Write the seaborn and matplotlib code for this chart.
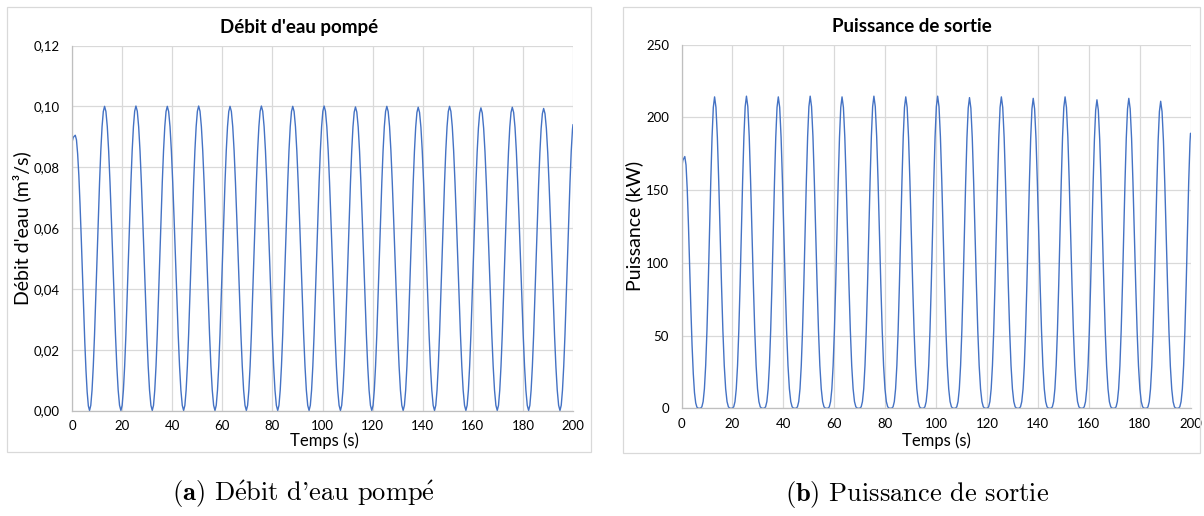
import matplotlib
matplotlib.use("Agg")
import matplotlib.pyplot as plt
import seaborn as sns
import pandas as pd
from matplotlib.patches import Rectangle
from matplotlib.ticker import FuncFormatter, FixedLocator

# ---------------- data ----------------
time_s = [
    0.00, 0.10, 0.50, 1.30, 1.78, 2.25, 2.73, 3.20, 3.68, 4.15, 4.63, 5.10, 5.58, 6.05, 6.53,
    7.00, 7.50, 8.00, 8.50, 9.00, 9.50, 10.00, 10.50, 11.00, 11.50, 12.00, 12.50, 13.00, 13.54, 14.09, 14.63, 15.17, 15.72, 16.26, 16.80, 17.35, 17.89, 18.43, 18.98,
    19.52, 20.02, 20.52, 21.02, 21.52, 22.02, 22.52, 23.02, 23.52, 24.02, 24.52, 25.02, 25.52, 26.06, 26.61, 27.15, 27.69, 28.24, 28.78, 29.32, 29.87, 30.41, 30.95, 31.50,
    32.04, 32.54, 33.04, 33.54, 34.04, 34.54, 35.04, 35.54, 36.04, 36.54, 37.04, 37.54, 38.04, 38.58, 39.13, 39.67, 40.21, 40.76, 41.30, 41.84, 42.39, 42.93, 43.47, 44.02,
    44.56, 45.06, 45.56, 46.06, 46.56, 47.06, 47.56, 48.06, 48.56, 49.06, 49.56, 50.06, 50.56, 51.10, 51.65, 52.19, 52.73, 53.28, 53.82, 54.36, 54.91, 55.45, 55.99, 56.54,
    57.08, 57.58, 58.08, 58.58, 59.08, 59.58, 60.08, 60.58, 61.08, 61.58, 62.08, 62.58, 63.08, 63.62, 64.17, 64.71, 65.25, 65.80, 66.34, 66.88, 67.43, 67.97, 68.51, 69.06,
    69.60, 70.10, 70.60, 71.10, 71.60, 72.10, 72.60, 73.10, 73.60, 74.10, 74.60, 75.10, 75.60, 76.14, 76.69, 77.23, 77.77, 78.32, 78.86, 79.40, 79.95, 80.49, 81.03, 81.58,
    82.12, 82.62, 83.12, 83.62, 84.12, 84.62, 85.12, 85.62, 86.12, 86.62, 87.12, 87.62, 88.12, 88.66, 89.21, 89.75, 90.29, 90.84, 91.38, 91.92, 92.47, 93.01, 93.55, 94.10,
    94.64, 95.14, 95.64, 96.14, 96.64, 97.14, 97.64, 98.14, 98.64, 99.14, 99.64, 100.14, 100.64, 101.18, 101.73, 102.27, 102.81, 103.36, 103.90, 104.44, 104.99, 105.53, 106.07, 106.62,
    107.16, 107.66, 108.16, 108.66, 109.16, 109.66, 110.16, 110.66, 111.16, 111.66, 112.16, 112.66, 113.16, 113.70, 114.25, 114.79, 115.33, 115.88, 116.42, 116.96, 117.51, 118.05, 118.59, 119.14,
    119.68, 120.18, 120.68, 121.18, 121.68, 122.18, 122.68, 123.18, 123.68, 124.18, 124.68, 125.18, 125.68, 126.22, 126.77, 127.31, 127.85, 128.40, 128.94, 129.48, 130.03, 130.57, 131.11, 131.66,
    132.20, 132.70, 133.20, 133.70, 134.20, 134.70, 135.20, 135.70, 136.20, 136.70, 137.20, 137.70, 138.20, 138.74, 139.29, 139.83, 140.37, 140.92, 141.46, 142.00, 142.55, 143.09, 143.63, 144.18,
    144.72, 145.22, 145.72, 146.22, 146.72, 147.22, 147.72, 148.22, 148.72, 149.22, 149.72, 150.22, 150.72, 151.26, 151.81, 152.35, 152.89, 153.44, 153.98, 154.52, 155.07, 155.61, 156.15, 156.70,
    157.24, 157.74, 158.24, 158.74, 159.24, 159.74, 160.24, 160.74, 161.24, 161.74, 162.24, 162.74, 163.24, 163.78, 164.33, 164.87, 165.41, 165.96, 166.50, 167.04, 167.59, 168.13, 168.67, 169.22,
    169.76, 170.26, 170.76, 171.26, 171.76, 172.26, 172.76, 173.26, 173.76, 174.26, 174.76, 175.26, 175.76, 176.30, 176.85, 177.39, 177.93, 178.48, 179.02, 179.56, 180.11, 180.65, 181.19, 181.74,
    182.28, 182.78, 183.28, 183.78, 184.28, 184.78, 185.28, 185.78, 186.28, 186.78, 187.28, 187.78, 188.28, 188.82, 189.37, 189.91, 190.45, 191.00, 191.54, 192.08, 192.63, 193.17, 193.71, 194.26,
    194.80, 195.30, 195.80, 196.30, 196.80, 197.30, 197.80, 198.30, 198.80, 199.30, 199.80, 200.00,
]

flow_m3s = [
    0.0000, 0.0885, 0.0898, 0.0905, 0.0890, 0.0844, 0.0773, 0.0679, 0.0570, 0.0453, 0.0335, 0.0226, 0.0132, 0.0061, 0.0015,
    0.0000, 0.0017, 0.0067, 0.0146, 0.0250, 0.0371, 0.0500, 0.0629, 0.0750, 0.0854, 0.0933, 0.0983, 0.1000, 0.0983, 0.0933, 0.0854, 0.0750, 0.0629, 0.0500, 0.0371, 0.0250, 0.0146, 0.0067, 0.0017,
    0.0000, 0.0017, 0.0067, 0.0146, 0.0250, 0.0371, 0.0500, 0.0629, 0.0750, 0.0854, 0.0933, 0.0984, 0.1001, 0.0984, 0.0933, 0.0854, 0.0750, 0.0629, 0.0500, 0.0371, 0.0250, 0.0146, 0.0067, 0.0017,
    0.0000, 0.0017, 0.0067, 0.0146, 0.0250, 0.0371, 0.0500, 0.0629, 0.0750, 0.0854, 0.0933, 0.0983, 0.1000, 0.0983, 0.0933, 0.0854, 0.0750, 0.0629, 0.0500, 0.0371, 0.0250, 0.0146, 0.0067, 0.0017,
    0.0000, 0.0017, 0.0067, 0.0146, 0.0250, 0.0371, 0.0500, 0.0629, 0.0750, 0.0854, 0.0933, 0.0984, 0.1001, 0.0984, 0.0933, 0.0854, 0.0750, 0.0629, 0.0500, 0.0371, 0.0250, 0.0146, 0.0067, 0.0017,
    0.0000, 0.0017, 0.0067, 0.0146, 0.0250, 0.0371, 0.0500, 0.0629, 0.0750, 0.0854, 0.0933, 0.0983, 0.1000, 0.0983, 0.0933, 0.0854, 0.0750, 0.0629, 0.0500, 0.0371, 0.0250, 0.0146, 0.0067, 0.0017,
    0.0000, 0.0017, 0.0067, 0.0146, 0.0250, 0.0371, 0.0500, 0.0629, 0.0750, 0.0854, 0.0933, 0.0984, 0.1001, 0.0984, 0.0933, 0.0854, 0.0750, 0.0629, 0.0500, 0.0371, 0.0250, 0.0146, 0.0067, 0.0017,
    0.0000, 0.0017, 0.0067, 0.0146, 0.0250, 0.0371, 0.0500, 0.0629, 0.0750, 0.0854, 0.0933, 0.0983, 0.1000, 0.0983, 0.0933, 0.0854, 0.0750, 0.0629, 0.0500, 0.0371, 0.0250, 0.0146, 0.0067, 0.0017,
    0.0000, 0.0017, 0.0067, 0.0146, 0.0250, 0.0371, 0.0500, 0.0629, 0.0750, 0.0854, 0.0933, 0.0984, 0.1001, 0.0984, 0.0933, 0.0854, 0.0750, 0.0629, 0.0500, 0.0371, 0.0250, 0.0146, 0.0067, 0.0017,
    0.0000, 0.0017, 0.0067, 0.0146, 0.0250, 0.0371, 0.0500, 0.0629, 0.0749, 0.0853, 0.0932, 0.0981, 0.0998, 0.0981, 0.0932, 0.0853, 0.0749, 0.0629, 0.0500, 0.0371, 0.0250, 0.0146, 0.0067, 0.0017,
    0.0000, 0.0017, 0.0067, 0.0146, 0.0250, 0.0371, 0.0500, 0.0629, 0.0750, 0.0854, 0.0933, 0.0983, 0.1000, 0.0983, 0.0933, 0.0854, 0.0750, 0.0629, 0.0500, 0.0371, 0.0250, 0.0146, 0.0067, 0.0017,
    0.0000, 0.0017, 0.0067, 0.0146, 0.0250, 0.0371, 0.0500, 0.0628, 0.0748, 0.0852, 0.0931, 0.0980, 0.0997, 0.0980, 0.0931, 0.0852, 0.0748, 0.0628, 0.0500, 0.0371, 0.0250, 0.0146, 0.0067, 0.0017,
    0.0000, 0.0017, 0.0067, 0.0146, 0.0250, 0.0371, 0.0500, 0.0629, 0.0750, 0.0854, 0.0933, 0.0983, 0.1000, 0.0983, 0.0933, 0.0854, 0.0750, 0.0629, 0.0500, 0.0371, 0.0250, 0.0146, 0.0067, 0.0017,
    0.0000, 0.0017, 0.0067, 0.0146, 0.0249, 0.0369, 0.0498, 0.0626, 0.0746, 0.0850, 0.0928, 0.0978, 0.0995, 0.0978, 0.0928, 0.0850, 0.0746, 0.0626, 0.0498, 0.0369, 0.0249, 0.0146, 0.0067, 0.0017,
    0.0000, 0.0017, 0.0067, 0.0146, 0.0250, 0.0371, 0.0500, 0.0628, 0.0748, 0.0852, 0.0931, 0.0980, 0.0997, 0.0980, 0.0931, 0.0852, 0.0748, 0.0628, 0.0500, 0.0371, 0.0250, 0.0146, 0.0067, 0.0017,
    0.0000, 0.0017, 0.0067, 0.0145, 0.0248, 0.0368, 0.0497, 0.0625, 0.0745, 0.0848, 0.0927, 0.0976, 0.0993, 0.0976, 0.0927, 0.0848, 0.0745, 0.0625, 0.0497, 0.0368, 0.0248, 0.0145, 0.0067, 0.0017,
    0.0000, 0.0017, 0.0067, 0.0146, 0.0250, 0.0371, 0.0500, 0.0629, 0.0750, 0.0854, 0.0925, 0.0940,
]

power_kw = [
    0.0, 165.5, 170.3, 173.0, 167.2, 150.6, 126.0, 97.3, 68.5, 43.3, 23.8, 10.8, 3.7, 0.8, 0.1,
    0.0, 0.1, 1.0, 4.6, 13.4, 29.4, 53.5, 84.8, 120.4, 155.9, 186.3, 206.8, 214.0, 206.8, 186.3, 155.9, 120.4, 84.8, 53.5, 29.4, 13.4, 4.6, 1.0, 0.1,
    0.0, 0.1, 1.0, 4.6, 13.4, 29.4, 53.6, 85.0, 120.7, 156.3, 186.7, 207.3, 214.5, 207.3, 186.7, 156.3, 120.7, 85.0, 53.6, 29.4, 13.4, 4.6, 1.0, 0.1,
    0.0, 0.1, 1.0, 4.6, 13.4, 29.4, 53.5, 84.8, 120.4, 155.9, 186.3, 206.8, 214.0, 206.8, 186.3, 155.9, 120.4, 84.8, 53.5, 29.4, 13.4, 4.6, 1.0, 0.1,
    0.0, 0.1, 1.0, 4.6, 13.4, 29.4, 53.6, 85.0, 120.7, 156.3, 186.7, 207.3, 214.5, 207.3, 186.7, 156.3, 120.7, 85.0, 53.6, 29.4, 13.4, 4.6, 1.0, 0.1,
    0.0, 0.1, 1.0, 4.6, 13.4, 29.4, 53.5, 84.8, 120.4, 155.9, 186.3, 206.8, 214.0, 206.8, 186.3, 155.9, 120.4, 84.8, 53.5, 29.4, 13.4, 4.6, 1.0, 0.1,
    0.0, 0.1, 1.0, 4.6, 13.4, 29.4, 53.6, 85.0, 120.7, 156.3, 186.7, 207.3, 214.5, 207.3, 186.7, 156.3, 120.7, 85.0, 53.6, 29.4, 13.4, 4.6, 1.0, 0.1,
    0.0, 0.1, 1.0, 4.6, 13.4, 29.4, 53.5, 84.8, 120.4, 155.9, 186.3, 206.8, 214.0, 206.8, 186.3, 155.9, 120.4, 84.8, 53.5, 29.4, 13.4, 4.6, 1.0, 0.1,
    0.0, 0.1, 1.0, 4.6, 13.4, 29.4, 53.6, 85.0, 120.7, 156.3, 186.7, 207.3, 214.5, 207.3, 186.7, 156.3, 120.7, 85.0, 53.6, 29.4, 13.4, 4.6, 1.0, 0.1,
    0.0, 0.1, 1.0, 4.6, 13.3, 29.3, 53.4, 84.6, 120.1, 155.6, 185.8, 206.3, 213.5, 206.3, 185.8, 155.6, 120.1, 84.6, 53.4, 29.3, 13.3, 4.6, 1.0, 0.1,
    0.0, 0.1, 1.0, 4.6, 13.4, 29.4, 53.5, 84.8, 120.4, 155.9, 186.3, 206.8, 214.0, 206.8, 186.3, 155.9, 120.4, 84.8, 53.5, 29.4, 13.4, 4.6, 1.0, 0.1,
    0.0, 0.1, 1.0, 4.6, 13.3, 29.2, 53.3, 84.4, 119.8, 155.2, 185.4, 205.8, 213.0, 205.8, 185.4, 155.2, 119.8, 84.4, 53.3, 29.2, 13.3, 4.6, 1.0, 0.1,
    0.0, 0.1, 1.0, 4.6, 13.4, 29.4, 53.5, 84.8, 120.4, 155.9, 186.3, 206.8, 214.0, 206.8, 186.3, 155.9, 120.4, 84.8, 53.5, 29.4, 13.4, 4.6, 1.0, 0.1,
    0.0, 0.1, 1.0, 4.5, 13.3, 29.1, 53.0, 84.0, 119.3, 154.5, 184.5, 204.9, 212.0, 204.9, 184.5, 154.5, 119.3, 84.0, 53.0, 29.1, 13.3, 4.5, 1.0, 0.1,
    0.0, 0.1, 1.0, 4.6, 13.3, 29.2, 53.3, 84.4, 119.8, 155.2, 185.4, 205.8, 213.0, 205.8, 185.4, 155.2, 119.8, 84.4, 53.3, 29.2, 13.3, 4.6, 1.0, 0.1,
    0.0, 0.1, 0.9, 4.5, 13.2, 29.0, 52.8, 83.6, 118.7, 153.7, 183.7, 203.9, 211.0, 203.9, 183.7, 153.7, 118.7, 83.6, 52.8, 29.0, 13.2, 4.5, 0.9, 0.1,
    0.0, 0.1, 1.0, 4.6, 13.4, 29.4, 53.5, 84.8, 120.4, 155.9, 183.0, 189.0,
]

assert len(time_s) == len(flow_m3s) == len(power_kw), (len(time_s), len(flow_m3s), len(power_kw))

x_ticks = [0, 20, 40, 60, 80, 100, 120, 140, 160, 180, 200]
flow_ticks = [0.00, 0.02, 0.04, 0.06, 0.08, 0.10, 0.12]
power_ticks = [0, 50, 100, 150, 200, 250]

titles = ["Débit d'eau pompé", "Puissance de sortie"]
ylabels = ["Débit d'eau (m³/s)", "Puissance (kW)"]
xlabel = "Temps (s)"
captions = [r"$\mathbf{(a)}$ D$\mathrm{\acute{e}}$bit d'eau pomp$\mathrm{\acute{e}}$",
            r"$\mathbf{(b)}$ Puissance de sortie"]

df = pd.DataFrame({"t": time_s, "q": flow_m3s, "p": power_kw})

# ---------------- style ----------------
sns.set_style("white")
plt.rcParams["font.family"] = ["Lato", "DejaVu Sans"]
plt.rcParams["mathtext.fontset"] = "cm"

LINE = "#4472C4"
GRID = "#d9d9d9"
AXIS = "#bfbfbf"
TXT = "#000000"

W, H = 1204, 516
fig = plt.figure(figsize=(W / 100, H / 100), dpi=100)
fig.patch.set_facecolor("white")


def fx(px):
    return px / W


def fy(py):
    return 1 - py / H


# chart-area frames
for (x0, y0, x1, y1) in [(7, 7, 591, 452), (623, 7, 1200, 453)]:
    fig.patches.append(Rectangle((fx(x0), fy(y1)), fx(x1) - fx(x0), fy(y0) - fy(y1),
                                 transform=fig.transFigure, facecolor="none",
                                 edgecolor=GRID, linewidth=0.9, zorder=0))

ax1 = fig.add_axes([fx(72), fy(410.5), fx(573) - fx(72), fy(45.5) - fy(410.5)])
ax2 = fig.add_axes([fx(681.5), fy(408.3), fx(1190.5) - fx(681.5), fy(44.5) - fy(408.3)])

sns.lineplot(data=df, x="t", y="q", ax=ax1, color=LINE, linewidth=1.0,
             estimator=None, sort=False)
sns.lineplot(data=df, x="t", y="p", ax=ax2, color=LINE, linewidth=1.0,
             estimator=None, sort=False)

specs = [
    (ax1, flow_ticks, (0, 0.12), lambda v, p: f"{v:.2f}".replace(".", ",")),
    (ax2, power_ticks, (0, 250), lambda v, p: f"{v:.0f}"),
]
for ax, yt, ylim, fmt in specs:
    ax.set_xlim(0, 200)
    ax.set_ylim(*ylim)
    ax.xaxis.set_major_locator(FixedLocator(x_ticks))
    ax.yaxis.set_major_locator(FixedLocator(yt))
    ax.yaxis.set_major_formatter(FuncFormatter(fmt))
    ax.grid(True, color=GRID, linewidth=0.9)
    ax.set_axisbelow(True)
    for s in ["top", "right"]:
        ax.spines[s].set_visible(False)
    for s in ["left", "bottom"]:
        ax.spines[s].set_color(AXIS)
        ax.spines[s].set_linewidth(0.9)
    ax.tick_params(axis="both", length=0, labelsize=9.5, labelcolor=TXT)
    ax.tick_params(axis="x", pad=7)
    ax.tick_params(axis="y", pad=9)
    ax.set_xlabel("")
    ax.set_ylabel("")
    ax.set_facecolor("white")

# titles
fig.text(fx(299), fy(27), titles[0], ha="center", va="center",
         fontsize=13.5, fontweight="bold", color=TXT)
fig.text(fx(912), fy(27), titles[1], ha="center", va="center",
         fontsize=13.5, fontweight="bold", color=TXT)

# axis labels
fig.text(fx(324), fy(441), xlabel, ha="center", va="center", fontsize=12, color=TXT)
fig.text(fx(936), fy(441), xlabel, ha="center", va="center", fontsize=12, color=TXT)
fig.text(fx(22), fy(228), ylabels[0], ha="center", va="center", rotation=90,
         fontsize=14, color=TXT)
fig.text(fx(634), fy(226), ylabels[1], ha="center", va="center", rotation=90,
         fontsize=14, color=TXT)

# sub-figure captions
fig.text(fx(303), fy(494), captions[0], ha="center", va="center", fontsize=19,
         family=["cmr10", "DejaVu Serif"], color=TXT)
fig.text(fx(917), fy(494), captions[1], ha="center", va="center", fontsize=19,
         family=["cmr10", "DejaVu Serif"], color=TXT)

fig.savefig("out.png", dpi=100, facecolor="white")
